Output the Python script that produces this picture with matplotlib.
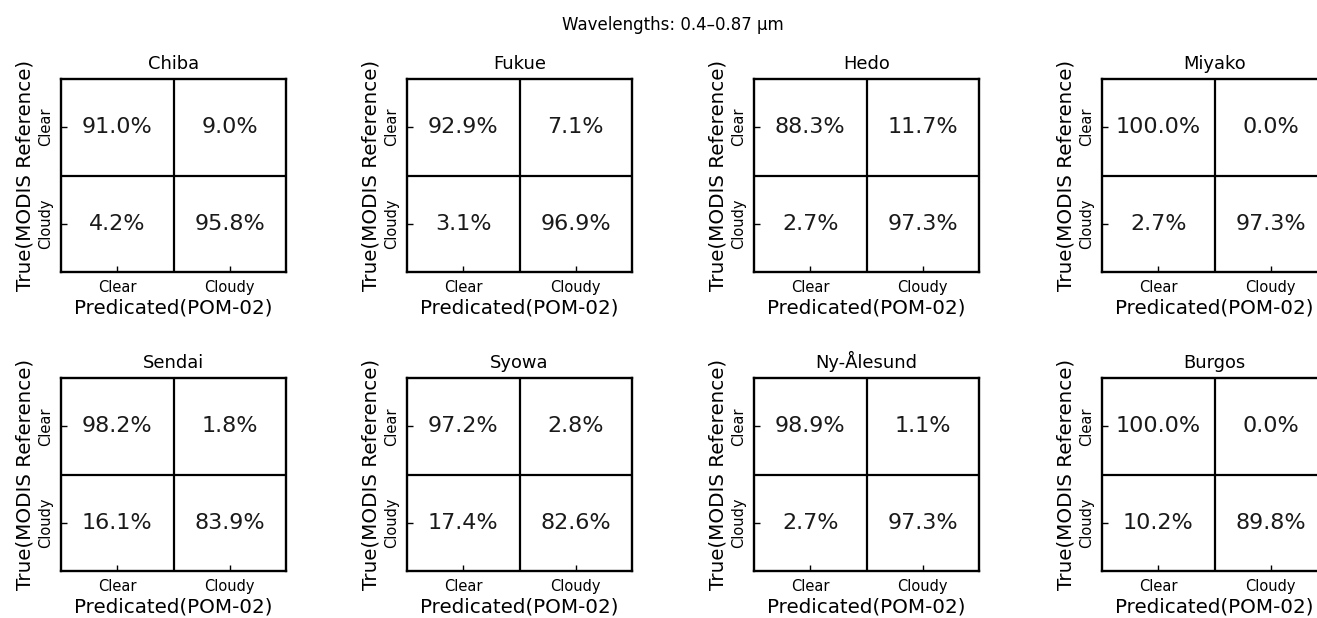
import matplotlib
matplotlib.use("Agg")
import matplotlib.pyplot as plt
import numpy as np
from matplotlib.colors import ListedColormap

stations = ["Chiba", "Fukue", "Hedo", "Miyako",
            "Sendai", "Syowa", "Ny-Ålesund", "Burgos"]
# row-normalised percentages: true class -> predicted class
clear_clear = [91.0, 92.9, 88.3, 100.0, 98.2, 97.2, 98.9, 100.0]
clear_cloudy = [9.0, 7.1, 11.7, 0.0, 1.8, 2.8, 1.1, 0.0]
cloudy_clear = [4.2, 3.1, 2.7, 2.7, 16.1, 17.4, 2.7, 10.2]
cloudy_cloudy = [95.8, 96.9, 97.3, 97.3, 83.9, 82.6, 97.3, 89.8]
classes = ["Clear", "Cloudy"]

W, H = 1317, 618
fig = plt.figure(figsize=(W / 100, H / 100), dpi=100)

col_left = [61, 407, 754, 1102]
row_top = [79, 378]
ax_w, ax_h = 225, 193

for i, name in enumerate(stations):
    r, c = divmod(i, 4)
    x0 = col_left[c]
    y0 = row_top[r] + ax_h
    ax = fig.add_axes([x0 / W, 1 - y0 / H, ax_w / W, ax_h / H])
    cm = np.array([[clear_clear[i], clear_cloudy[i]],
                   [cloudy_clear[i], cloudy_cloudy[i]]])
    ax.imshow(cm, cmap=ListedColormap(["white"]), aspect="auto")
    for yy in range(2):
        for xx in range(2):
            ax.text(xx, yy, f"{cm[yy, xx]:.1f}%", ha="center", va="center",
                    fontsize=16, color="#1a1a1a")
    ax.axhline(0.5, color="black", lw=1.6)
    ax.axvline(0.5, color="black", lw=1.6)
    ax.set_xticks([0, 1])
    ax.set_yticks([0, 1])
    ax.set_xticklabels(classes, fontsize=10.5)
    ax.set_yticklabels(classes, fontsize=10.5, rotation=90, va="center")
    ax.tick_params(direction="in", length=4, width=1, pad=6)
    for s in ax.spines.values():
        s.set_linewidth(1.7)
    ax.set_title(name, fontsize=12.9, pad=7)
    ax.set_xlabel("Predicated(POM-02)", fontsize=14.3, labelpad=2)
    ax.set_ylabel("True(MODIS Reference)", fontsize=14.3, labelpad=2)

fig.text(673 / W, 1 - 25 / H, "Wavelengths: 0.4–0.87 µm",
         ha="center", va="center", fontsize=12)

fig.savefig("out.png", dpi=100)
